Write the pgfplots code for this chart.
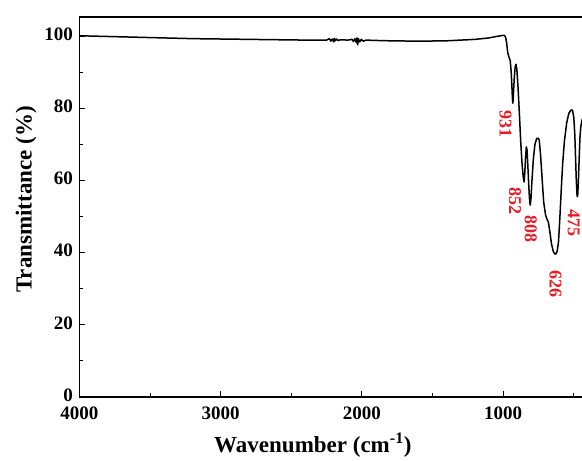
\documentclass[border=0pt]{standalone}
\usepackage{pgfplots}
\pgfplotsset{compat=1.18}
\usepackage{fontspec}
\setmainfont{Liberation Serif}
\definecolor{lblred}{RGB}{232,28,36}
\begin{document}
\begin{tikzpicture}
\begin{axis}[
  name=ax,
  scale only axis,
  width=508.4pt, height=380pt,
  x dir=reverse,
  xmin=400, xmax=4000,
  ymin=0, ymax=105.3,
  xtick={1000,2000,3000,4000},
  minor xtick={500,1500,2500,3500},
  ytick={0,20,...,100},
  minor ytick={10,30,50,70,90},
  tick align=inside,
  xtick pos=left, ytick pos=left,
  major tick length=6pt, minor tick length=3.5pt,
  axis line style={line width=1.2pt},
  every tick/.style={black, line width=1.1pt},
  tick label style={font=\fontsize{19}{19}\selectfont\bfseries, inner sep=1pt},
  xticklabel style={yshift=-8.8pt},
  yticklabel style={yshift=2pt, xshift=-5.3pt},
  /pgf/number format/assume math mode=true,
  /pgf/number format/1000 sep={},
  xlabel={Wavenumber (cm\textsuperscript{-1})},
  ylabel={Transmittance (\%)},
  label style={font=\fontsize{23}{23}\selectfont\bfseries},
  xlabel style={at={(axis description cs:0.459,-0.126)}, anchor=center},
  ylabel style={at={(axis description cs:-0.105,0.52)}, anchor=center},
]
\addplot[black, line width=1.5pt, line join=round] coordinates {
(4000,100.1) (3900,100.0) (3800,99.9) (3700,99.8) (3600,99.7) (3500,99.6)
(3400,99.5) (3300,99.4) (3200,99.3) (3000,99.2) (2800,99.1) (2600,99.0)
(2400,98.9) (2250,98.9) (2230,99.3) (2220,98.6) (2210,99.2) (2200,98.4)
(2195,99.4) (2190,98.7) (2180,99.2) (2170,98.8) (2150,99.0) (2100,98.9)
(2070,99.1) (2060,98.5) (2050,99.3) (2040,98.2) (2035,99.5) (2030,97.6)
(2025,99.3) (2015,98.4) (2005,99.1) (1990,98.6) (1970,98.9) (1900,98.8)
(1800,98.7) (1600,98.6) (1400,98.7) (1300,98.9) (1200,99.1) (1100,99.5)
(1050,99.9) (1000,100.2) (990,100.2) (982,99.6) (975,98) (968,95.5)
(960,94.3) (950,93.2) (943,90) (938,86) (934,82.5) (931,81.4) (928,83.5)
(922,88) (915,91.5) (909,92.2) (903,90.8) (895,86) (885,78.5) (876,71)
(866,64.5) (858,61) (852,59.6) (847,62) (842,66) (836,69.3) (831,68.5)
(825,64) (818,58) (812,54) (808,53.2) (803,55) (796,60) (786,66) (775,70)
(762,71.7) (750,71.7) (744,71) (735,67) (725,61) (713,54) (700,50.5)
(690,49.3) (680,48.5) (670,46) (658,42.5) (645,40.3) (635,39.7) (626,39.6)
(617,40.5) (608,43) (598,50) (588,58) (578,65) (566,71) (550,76) (535,78.6)
(520,79.5) (509,79.5) (500,77.5) (493,73) (487,66) (482,60) (477,56)
(475,55.5) (472,56) (467,60) (461,67) (456,72) (450,75) (440,77) (420,77.5)
(400,77)
};
\begin{scope}[every node/.style={rotate=-90, text=lblred, font=\fontsize{18}{18}\selectfont\bfseries, inner sep=0pt}]
\node at (axis cs:983,75.6) {931};
\node at (axis cs:916,54.3) {852};
\node at (axis cs:804,46.5) {808};
\node at (axis cs:629,31.3) {626};
\node at (axis cs:500,48.1) {475};
\end{scope}
\end{axis}
\pgfresetboundingbox
\path[use as bounding box] ([shift={(-79.5pt,-64pt)}]ax.south west) rectangle ([shift={(502.5pt,17pt)}]ax.north west);
\end{tikzpicture}
\end{document}
